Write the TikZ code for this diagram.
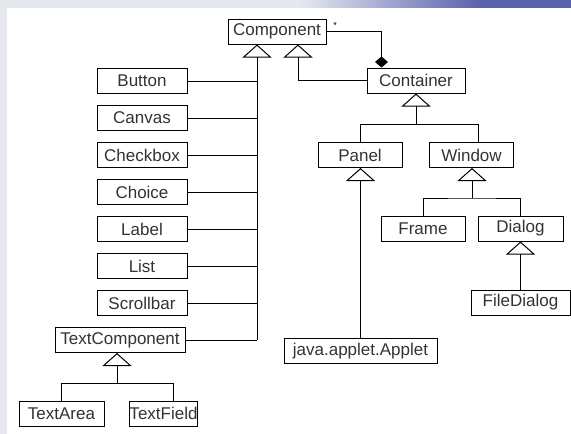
\documentclass[tikz,border=0pt]{standalone}
\usepackage{fontspec}
\setmainfont{Liberation Sans}
\usetikzlibrary{arrows.meta}
\definecolor{band}{HTML}{E6E8F0}
\definecolor{bandblue}{HTML}{5A62AE}
\begin{document}
\begin{tikzpicture}[x=1pt,y=-1pt,
  cls/.style={draw=black,line width=1pt,fill=white,minimum height=25pt,inner sep=0pt,
    font=\fontsize{17}{19}\selectfont,text=black!80},
  conn/.style={line width=1pt,draw=black},
  inh/.style={conn,-{Triangle[open,length=13pt,width=29pt]}},
  agg/.style={conn,-{Diamond[length=11pt,width=13pt]}}]
\useasboundingbox (0,0) rectangle (571,434);
\fill[band] (0,0) rectangle (571,434);
\shade[left color=band,right color=bandblue] (300,0) rectangle (480,8);
\fill[bandblue] (480,0) rectangle (571,8);
\fill[white] (7,8) rectangle (571,434);

% nodes
\node[cls,minimum width=98pt] (comp) at (277,31.5) {Component};
\node[cls,minimum width=98pt] (cont) at (416,80.5) {Container};
\node[cls,minimum width=90pt] (button) at (142,81) {Button};
\node[cls,minimum width=90pt] (canvas) at (142,118) {Canvas};
\node[cls,minimum width=90pt] (checkbox) at (142,155) {Checkbox};
\node[cls,minimum width=90pt] (choice) at (142,192) {Choice};
\node[cls,minimum width=90pt] (label) at (142,229) {Label};
\node[cls,minimum width=90pt] (list) at (142,266) {List};
\node[cls,minimum width=90pt] (scroll) at (142,303) {Scrollbar};
\node[cls,minimum width=130pt] (tc) at (120,340) {TextComponent};
\node[cls,minimum width=85pt] (ta) at (61.5,413.5) {TextArea};
\node[cls,minimum width=67pt] (tf) at (163.5,413.5) {TextField};
\node[cls,minimum width=84pt] (panel) at (360,155) {Panel};
\node[cls,minimum width=84pt] (window) at (471.5,155) {Window};
\node[cls,minimum width=84pt] (frame) at (423,228.5) {Frame};
\node[cls,minimum width=85pt] (dialog) at (520.5,228.5) {Dialog};
\node[cls,minimum width=99pt] (fd) at (520.5,302.5) {FileDialog};
\node[cls,minimum width=153pt] (applet) at (360.5,351) {java.applet.Applet};
\node[font=\fontsize{9}{9}\selectfont,inner sep=0pt] (mult) at (335,25) {*};

% Component hierarchy trunk
\coordinate (tk) at (257,340);
\draw[inh] (tk) -- (tk |- comp.south);
\foreach \n in {button,canvas,checkbox,choice,label,list,scroll,tc}
  \draw[conn] (\n.east) -- (\n.east -| tk);

% Container inherits Component
\draw[inh] (cont.west) -| ([xshift=21pt]comp.south);
% aggregation
\draw[agg] (comp.east) -| ([xshift=15pt]cont.north west);

% Container children
\coordinate (cj) at (416,124);
\coordinate (wj) at (478,124);
\draw[inh] (cj) -- (cj |- cont.south);
\draw[conn] (panel.north) |- (wj) -- (wj |- window.north);

% Panel -> Applet
\draw[inh] (applet.north) -- (applet.north |- panel.south);

% Window children
\coordinate (wk) at (472,198);
\draw[inh] (wk) -- (wk |- window.south);
\draw[conn] (frame.north) |- (wk) -| (dialog.north);

% Dialog -> FileDialog
\draw[inh] (fd.north) -- (fd.north |- dialog.south);

% TextComponent children
\coordinate (tj) at (117,383);
\coordinate (tfj) at (173,383);
\draw[inh] (tj) -- (tj |- tc.south);
\draw[conn] (ta.north) |- (tfj) -- (tfj |- tf.north);
\end{tikzpicture}
\end{document}
